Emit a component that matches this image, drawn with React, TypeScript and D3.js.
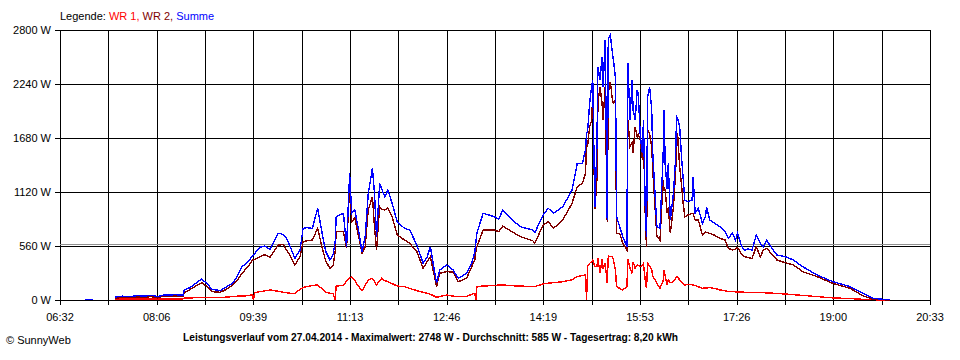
import { useEffect, useRef } from 'react';
import * as d3 from 'd3';

// Sample times (HH:MM) shared by all three series
const times = [
  '06:56', '07:04', '07:14', '07:25', '07:32', '07:40', '07:47', '07:54', '08:00', '08:06',
  '08:12', '08:18', '08:24', '08:31', '08:32', '08:38', '08:44', '08:49', '08:54', '08:59',
  '09:07', '09:13', '09:19', '09:24', '09:28', '09:34', '09:38', '09:39', '09:40', '09:45',
  '09:50', '09:55', '10:03', '10:08', '10:11', '10:15', '10:19', '10:24', '10:27', '10:31',
  '10:36', '10:41', '10:46', '10:49', '10:53', '10:56', '10:58', '10:59', '11:06', '11:09',
  '11:12', '11:14', '11:17', '11:20', '11:24', '11:27', '11:30', '11:34', '11:36', '11:38',
  '11:41', '11:43', '11:46', '11:49', '11:53', '11:58', '12:05', '12:10', '12:17', '12:23',
  '12:27', '12:30', '12:36', '12:39', '12:46', '12:52', '12:57', '13:05', '13:10', '13:13',
  '13:14', '13:15', '13:21', '13:32', '13:36', '13:40', '13:49', '13:57', '14:09', '14:11',
  '14:19', '14:24', '14:29', '14:38', '14:47', '14:52', '14:57', '15:00', '15:01', '15:02',
  '15:04', '15:06', '15:07', '15:09', '15:11', '15:12', '15:14', '15:16', '15:17', '15:19',
  '15:21', '15:22', '15:24', '15:26', '15:27', '15:29', '15:30', '15:33', '15:36', '15:40',
  '15:41', '15:43', '15:45', '15:46', '15:48', '15:50', '15:51', '15:53', '15:55', '15:56',
  '15:58', '15:59', '16:00', '16:02', '16:04', '16:05', '16:09', '16:12', '16:15', '16:16',
  '16:17', '16:19', '16:20', '16:22', '16:25', '16:27', '16:28', '16:29', '16:31', '16:33',
  '16:34', '16:36', '16:39', '16:43', '16:44', '16:46', '16:49', '16:53', '16:56', '16:57',
  '17:00', '17:05', '17:10', '17:15', '17:18', '17:22', '17:25', '17:27', '17:31', '17:34',
  '17:37', '17:41', '17:45', '17:49', '17:52', '17:55', '17:58', '18:05', '18:13', '18:21',
  '18:30', '18:44', '18:59', '19:16', '19:28', '19:38', '19:47', '19:54'
];

// Summe (blue)
const summe = [
  8, 8, null, 30, 40, 35, 45, 40, 50, 35,
  50, 52, 55, 50, 104, 130, 180, 218, 170, 111,
  97, 138, 173, 260, 345, 400, 456, 460, 480, 546,
  560, 525, 692, 680, 640, 540, 432, 518, 743, 750,
  743, 951, 657, 500, 415, 470, 600, 864, 899, 553,
  1314, 899, 933, 760, 501, 657, 1106, 1366, 1106, 657,
  1210, 1150, 1071, 1141, 1003, 812, 743, 726, 570, 380,
  449, 553, 173, 311, 363, 311, 225, 277, 380, 500,
  600, 692, 899, 864, 837, 933, 830, 760, 726, 698,
  881, 951, 899, 967, 1141, 1418, 1418, 1556, 1728, 1750,
  2040, 2230, 2281, 967, 1590, 2419, 2281, 2523, 2212, 2696,
  830, 2713, 2748, 2558, 2489, 2299, 864, 760, 657, 553,
  2454, 1867, 2281, 1970, 1867, 2178, 2143, 1694, 1521, 1867,
  830, 657, 2108, 2212, 1970, 1521, 760, 743, 1486, 1970,
  1400, 1150, 1418, 830, 1106, 1452, 1901, 1884, 1797, 1452,
  1314, 1037, 1020, 1037, 1279, 899, 951, 795, 864, 967,
  830, 795, 760, 708, 640, 692, 622, 692, 553, 518,
  530, 518, 674, 588, 553, 622, 570, 467, 449, 415,
  345, 259, 190, 138, 69, 17, 8, 5
];

// WR 2 (dark red)
const wr2 = [
  null, null, null, 20, 25, 28, 30, 28, 35, 22,
  40, 42, 40, 38, 75, 110, 150, 180, 140, 86,
  80, 111, 156, 215, 277, 350, 415, 415, 420, 449,
  470, 443, 570, 575, 518, 450, 363, 449, 605, 615,
  622, 743, 518, 400, 329, 360, 500, 708, 708, 536,
  1175, 812, 850, 692, 487, 553, 933, 1071, 760, 518,
  967, 940, 933, 954, 864, 674, 622, 588, 501, 329,
  400, 449, 138, 277, 294, 290, 190, 225, 345, 420,
  500, 553, 726, 726, 708, 767, 708, 657, 615, 588,
  778, 812, 743, 830, 1003, 1175, 1210, 1314, 1625, 1600,
  1797, 1867, 2143, 940, 1244, 2040, 2212, 2040, 1867, 2212,
  812, 2143, 2264, 2074, 2040, 2074, 691, 692, 588, 518,
  1867, 1590, 1630, 1521, 1797, 1694, 1720, 1659, 1452, 1720,
  760, 553, 1763, 1720, 1590, 1348, 657, 622, 1244, 1141,
  1141, 900, 960, 692, 967, 1300, 1556, 1728, 1383, 1175,
  1037, 864, 881, 899, 899, 830, 830, 674, 708, 700,
  692, 670, 640, 622, 536, 518, 530, 545, 470, 449,
  440, 432, 553, 449, 520, 536, 501, 415, 387, 363,
  294, 242, 173, 120, 45, 7, 3, 0
];

// WR 1 (red)
const wr1 = [
  null, null, null, 10, 12, 12, 12, 10, 10, 10,
  10, 10, 10, 12, 20, 22, 24, 25, 25, 25,
  25, 30, 36, 40, 40, 45, 55, 0, 75, 86,
  95, 104, 90, 80, 75, 70, 69, 110, 131, 140,
  150, 156, 110, 80, 69, 69, 0, 145, 150, 200,
  228, 242, 200, 150, 97, 150, 210, 225, 190, 156,
  200, 225, 200, 190, 170, 145, 138, 120, 97, 80,
  69, 60, 28, 35, 52, 40, 35, 35, 60, 69,
  0, 138, 145, 150, 155, 156, 148, 145, 138, 140,
  166, 175, 180, 190, 210, 242, 255, 259, 0, 350,
  380, 400, 415, 345, 345, 432, 280, 422, 329, 380,
  173, 456, 449, 449, 415, 300, 138, 121, 104, 138,
  422, 330, 277, 397, 329, 363, 360, 345, 360, 380,
  173, 121, 380, 350, 311, 250, 173, 121, 200, 311,
  250, 156, 207, 180, 190, 220, 242, 242, 207, 180,
  173, 156, 163, 160, 155, 150, 138, 121, 125, 125,
  128, 120, 104, 95, 86, 86, 85, 84, 82, 80,
  80, 79, 78, 76, 75, 74, 72, 68, 62, 55,
  48, 35, 22, 15, 7, 3, 0, 0
];

const xTickLabels = ['06:32', '08:06', '09:39', '11:13', '12:46', '14:19', '15:53', '17:26', '19:00', '20:33'];
const yTicks = [0, 560, 1120, 1680, 2240, 2800];
const average = 585;
const caption = 'Leistungsverlauf vom 27.04.2014 - Maximalwert: 2748 W - Durchschnitt: 585 W - Tagesertrag: 8,20 kWh';
const legendItems = [
  { label: 'WR 1, ', color: '#ff0000', values: wr1 },
  { label: 'WR 2, ', color: '#800000', values: wr2 },
  { label: 'Summe', color: '#0000ff', values: summe }
];

const toMin = (s: string) => +s.slice(0, 2) * 60 + +s.slice(3);

export default function App() {
  const ref = useRef<SVGSVGElement>(null);

  useEffect(() => {
    const svg = d3.select(ref.current);
    svg.selectAll('*').remove();

    const font = "'Liberation Sans', Arial, sans-serif";
    const left = 60, right = 930, top = 30, bottom = 300;

    const t0 = toMin(xTickLabels[0]);
    const t1 = toMin(xTickLabels[xTickLabels.length - 1]);
    const x = d3.scaleLinear().domain([t0, t1]).range([left, right]);
    const y = d3.scaleLinear().domain([0, 2800]).range([bottom, top]);

    svg.append('rect').attr('width', 960).attr('height', 360).attr('fill', '#fff');

    // grid
    const grid = svg.append('g').attr('shape-rendering', 'crispEdges').attr('stroke', '#000');
    const gridTimes = d3.range(19).map(i => t0 + (i * (t1 - t0)) / 18);
    grid.selectAll('line.v')
      .data(gridTimes)
      .enter().append('line')
      .attr('class', 'v')
      .attr('x1', d => Math.round(x(d)) + 0.5)
      .attr('x2', d => Math.round(x(d)) + 0.5)
      .attr('y1', top)
      .attr('y2', bottom + 5);

    grid.selectAll('line.h')
      .data(yTicks)
      .enter().append('line')
      .attr('class', 'h')
      .attr('x1', left - 5)
      .attr('x2', right)
      .attr('y1', d => Math.round(y(d)) + 0.5)
      .attr('y2', d => Math.round(y(d)) + 0.5);

    // average line
    svg.append('line')
      .attr('shape-rendering', 'crispEdges')
      .attr('x1', left)
      .attr('x2', right)
      .attr('y1', Math.round(y(average)) + 0.5)
      .attr('y2', Math.round(y(average)) + 0.5)
      .attr('stroke', '#909090');

    // y labels
    svg.append('g')
      .attr('font-family', font)
      .attr('font-size', 11)
      .attr('text-anchor', 'end')
      .selectAll('text')
      .data(yTicks)
      .enter().append('text')
      .attr('x', 51)
      .attr('y', d => y(d) + 4)
      .text(d => `${d} W`);

    // x labels
    svg.append('g')
      .attr('font-family', font)
      .attr('font-size', 11)
      .attr('text-anchor', 'middle')
      .selectAll('text')
      .data(xTickLabels)
      .enter().append('text')
      .attr('x', (d, i) => x(gridTimes[i * 2]))
      .attr('y', 321)
      .text(d => d);

    // series
    legendItems.forEach(s => {
      const pts = times.map((t, i) => ({ t: toMin(t), v: s.values[i] }));
      const line = d3.line<{ t: number; v: number | null }>()
        .defined(d => d.v != null)
        .x(d => x(d.t))
        .y(d => y(d.v as number));
      svg.append('path')
        .datum(pts)
        .attr('fill', 'none')
        .attr('stroke', s.color)
        .attr('stroke-width', 1.4)
        .attr('shape-rendering', 'crispEdges')
        .attr('d', line);
    });

    // legend
    const legend = svg.append('text')
      .attr('x', left)
      .attr('y', 20)
      .attr('font-family', font)
      .attr('font-size', 11);
    legend.append('tspan').attr('fill', '#000').text('Legende: ');
    legendItems.forEach(s => {
      legend.append('tspan').attr('fill', s.color).text(s.label);
    });

    // caption
    svg.append('text')
      .attr('x', 183)
      .attr('y', 341)
      .attr('font-family', font)
      .attr('font-size', 11.5)
      .attr('font-weight', 'bold')
      .attr('textLength', 495)
      .attr('lengthAdjust', 'spacingAndGlyphs')
      .text(caption);

    svg.append('text')
      .attr('x', 6)
      .attr('y', 344)
      .attr('font-family', font)
      .attr('font-size', 11)
      .text('\u00a9 SunnyWeb');
  }, []);

  return (
    <svg
      ref={ref}
      width={960}
      height={360}
      style={{ position: 'absolute', left: 0, top: 0, display: 'block' }}
    />
  );
}
